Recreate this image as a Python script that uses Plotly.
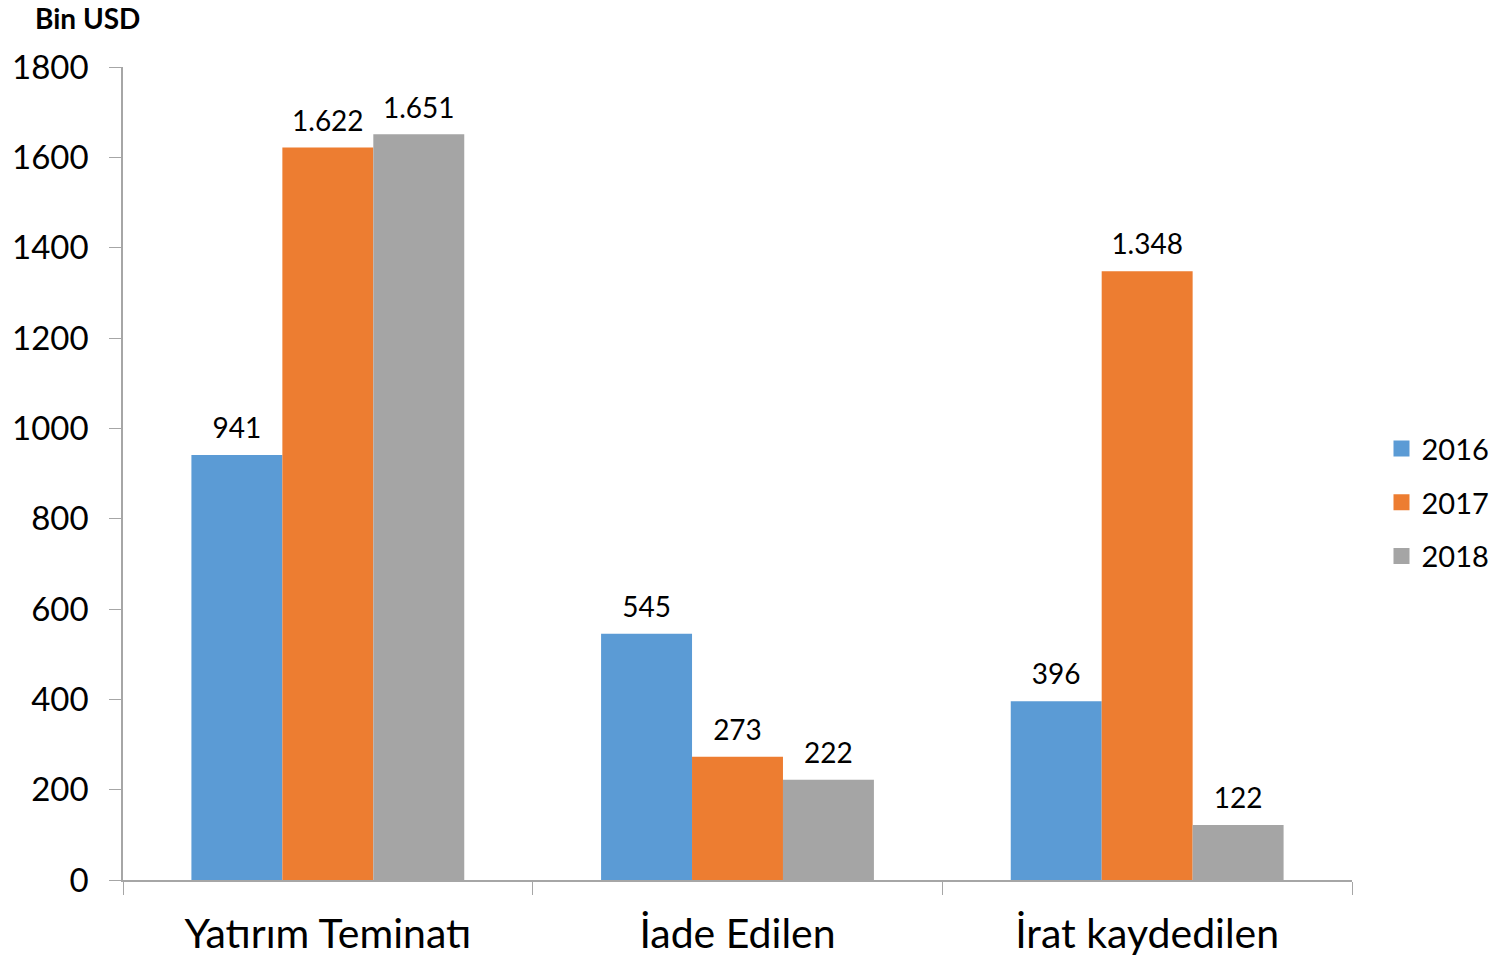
import plotly.graph_objects as go

# Categories and yearly values (Bin USD)
categories = ["Yatırım Teminatı", "İade Edilen", "İrat kaydedilen"]
years = ["2016", "2017", "2018"]
values_2016 = [941, 545, 396]
values_2017 = [1622, 273, 1348]
values_2018 = [1651, 222, 122]
labels_2016 = ["941", "545", "396"]
labels_2017 = ["1.622", "273", "1.348"]
labels_2018 = ["1.651", "222", "122"]

series = [
    (years[0], values_2016, labels_2016, "#5B9BD5"),
    (years[1], values_2017, labels_2017, "#ED7D31"),
    (years[2], values_2018, labels_2018, "#A5A5A5"),
]

FONT = "Lato, 'Open Sans', sans-serif"

fig = go.Figure()
for name, vals, txt, color in series:
    fig.add_trace(go.Bar(
        name=name,
        legendgroup=name,
        offsetgroup=name,
        showlegend=False,
        x=categories,
        y=vals,
        marker=dict(color=color, line=dict(width=0)),
    ))
    # value labels: invisible markers push the text a bit above the bar top
    fig.add_trace(go.Scatter(
        x=categories,
        y=vals,
        offsetgroup=name,
        mode="markers+text",
        text=txt,
        textposition="top center",
        textfont=dict(size=28, color="black", family=FONT),
        marker=dict(size=14, color="rgba(0,0,0,0)"),
        showlegend=False,
        hoverinfo="skip",
        cliponaxis=False,
    ))

# legend entries with bigger square swatches, on a hidden overlay axis
for name, vals, txt, color in series:
    fig.add_trace(go.Scatter(
        name=name,
        legendgroup=name,
        x=[None],
        y=[None],
        xaxis="x2",
        mode="markers",
        marker=dict(symbol="square", size=18, color=color),
        hoverinfo="skip",
    ))

fig.update_layout(
    width=1493,
    height=958,
    barmode="group",
    bargap=0.334,
    bargroupgap=0,
    scattermode="group",
    scattergap=0.334,
    plot_bgcolor="white",
    paper_bgcolor="white",
    font=dict(family=FONT, color="black"),
    margin=dict(l=123, r=141, t=67, b=78, autoexpand=False),
    title=dict(
        text="<b>Bin USD</b>",
        x=35 / 1493,
        xanchor="left",
        y=1 - 19 / 958,
        yanchor="middle",
        font=dict(size=28, family=FONT, color="black"),
    ),
    legend=dict(
        x=1.024,
        xanchor="left",
        y=0.464,
        yanchor="middle",
        font=dict(size=29, family=FONT),
        bgcolor="rgba(0,0,0,0)",
        tracegroupgap=13,
    ),
    xaxis=dict(
        showline=True,
        linecolor="#A6A6A6",
        linewidth=1.5,
        ticks="outside",
        tickson="boundaries",
        ticklen=13,
        tickcolor="#A6A6A6",
        tickfont=dict(size=41, family=FONT),
        ticklabelstandoff=17,
        showgrid=False,
    ),
    xaxis2=dict(overlaying="x", visible=False),
    yaxis=dict(
        range=[0, 1800],
        dtick=200,
        showline=True,
        linecolor="#A6A6A6",
        linewidth=1.5,
        ticks="outside",
        ticklen=12,
        tickcolor="#A6A6A6",
        tickfont=dict(size=33, family=FONT),
        ticklabelstandoff=14,
        showgrid=False,
        zeroline=False,
    ),
)

# remove the default page margin so the figure sits at the window's corner
fig.write_html(
    "out.html",
    config={"displayModeBar": False},
    post_script="document.body.style.margin='0';",
)
